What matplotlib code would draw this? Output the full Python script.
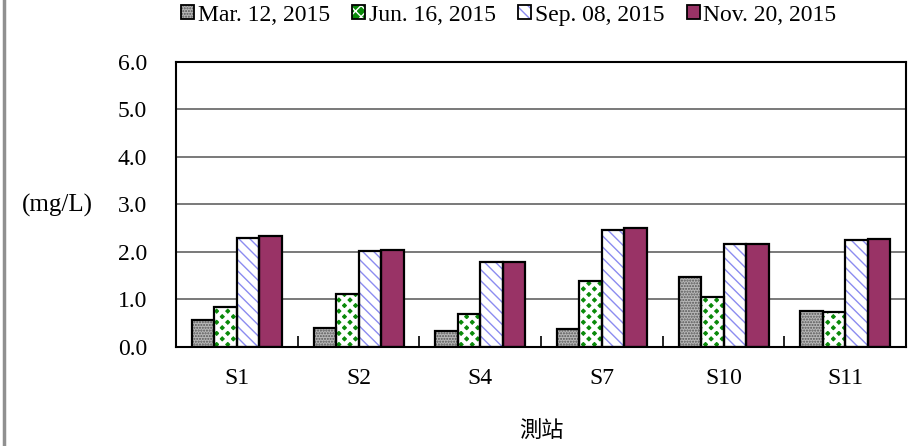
import matplotlib.pyplot as plt
import numpy as np
from matplotlib.patches import Patch
from matplotlib.lines import Line2D
from matplotlib.legend_handler import HandlerTuple

plt.rcParams['font.family'] = ['Liberation Serif', 'Noto Sans CJK TC']

stations = ['S1', 'S2', 'S4', 'S7', 'S10', 'S11']
dates = ['Mar. 12, 2015', 'Jun. 16, 2015', 'Sep. 08, 2015', 'Nov. 20, 2015']
mar = [0.57, 0.39, 0.33, 0.38, 1.47, 0.76]
jun = [0.84, 1.12, 0.70, 1.38, 1.05, 0.74]
sep = [2.29, 2.03, 1.78, 2.46, 2.16, 2.26]
nov = [2.33, 2.05, 1.79, 2.50, 2.17, 2.27]
series = [mar, jun, sep, nov]

# fill, hatch, hatch colour, hatch width
styles = [
    ('#b8b8b8', '......', '#555555', 1.0),
    ('#0a8a0a', 'xxx', 'white', 2.8),
    ('white', '\\\\\\', '#8c8cf0', 1.0),
    ('#993366', '', '#993366', 1.0),
]

fig = plt.figure(figsize=(9.17, 4.46), dpi=100)
ax = fig.add_axes([0.192, 0.222, 0.796, 0.639])

x = np.arange(len(stations))
w = 0.185
handles = []
for i, (vals, (fc, hatch, hc, hw)) in enumerate(zip(series, styles)):
    pos = x + (i - 1.5) * w
    plt.rcParams['hatch.linewidth'] = hw
    ax.bar(pos, vals, w, color=fc, hatch=hatch, edgecolor=hc, linewidth=0, zorder=2)
    ax.bar(pos, vals, w, fill=False, edgecolor='black', linewidth=1.6, zorder=3)
    h1 = Patch(facecolor=fc, hatch=hatch, edgecolor=hc, linewidth=0)
    h2 = Patch(fill=False, edgecolor='black', linewidth=1.3)
    handles.append((h1, h2))

ax.set_ylim(0, 6)
ax.set_xlim(-0.5, len(stations) - 0.5)
yt = np.arange(0, 6.1, 1.0)
ax.set_yticks(yt)
ax.set_yticklabels([f'{v:.1f}' for v in yt], fontsize=17)
ax.set_xticks(x)
ax.set_xticklabels(stations, fontsize=17)
ax.set_xticks(np.arange(-0.5, len(stations)), minor=True)
ax.tick_params(axis='x', which='major', length=0, pad=15)
ax.tick_params(axis='x', which='minor', direction='in', length=8, width=1.2)
ax.tick_params(axis='y', length=0, pad=21)
ax.grid(axis='y', color='#555555', linewidth=1.1, zorder=0)
for s in ax.spines.values():
    s.set_linewidth(1.5)

fig.text(0.063, 0.54, '(mg/L)', fontsize=18, ha='center', va='center')
fig.text(0.59, 0.035, '測站', fontsize=16, ha='center', va='center',
         family=['Noto Sans CJK TC'])

fig.legend(handles, dates, loc='center', bbox_to_anchor=(0.555, 0.966), ncol=4,
           frameon=False, fontsize=17, handlelength=0.55, handleheight=0.55,
           handletextpad=0.15, columnspacing=0.95, borderpad=0, borderaxespad=0,
           handler_map={tuple: HandlerTuple(ndivide=1)})

fig.add_artist(Line2D([0.004, 0.004], [0, 1], color='#909090', linewidth=2.5))

fig.savefig('out.png', dpi=100)
